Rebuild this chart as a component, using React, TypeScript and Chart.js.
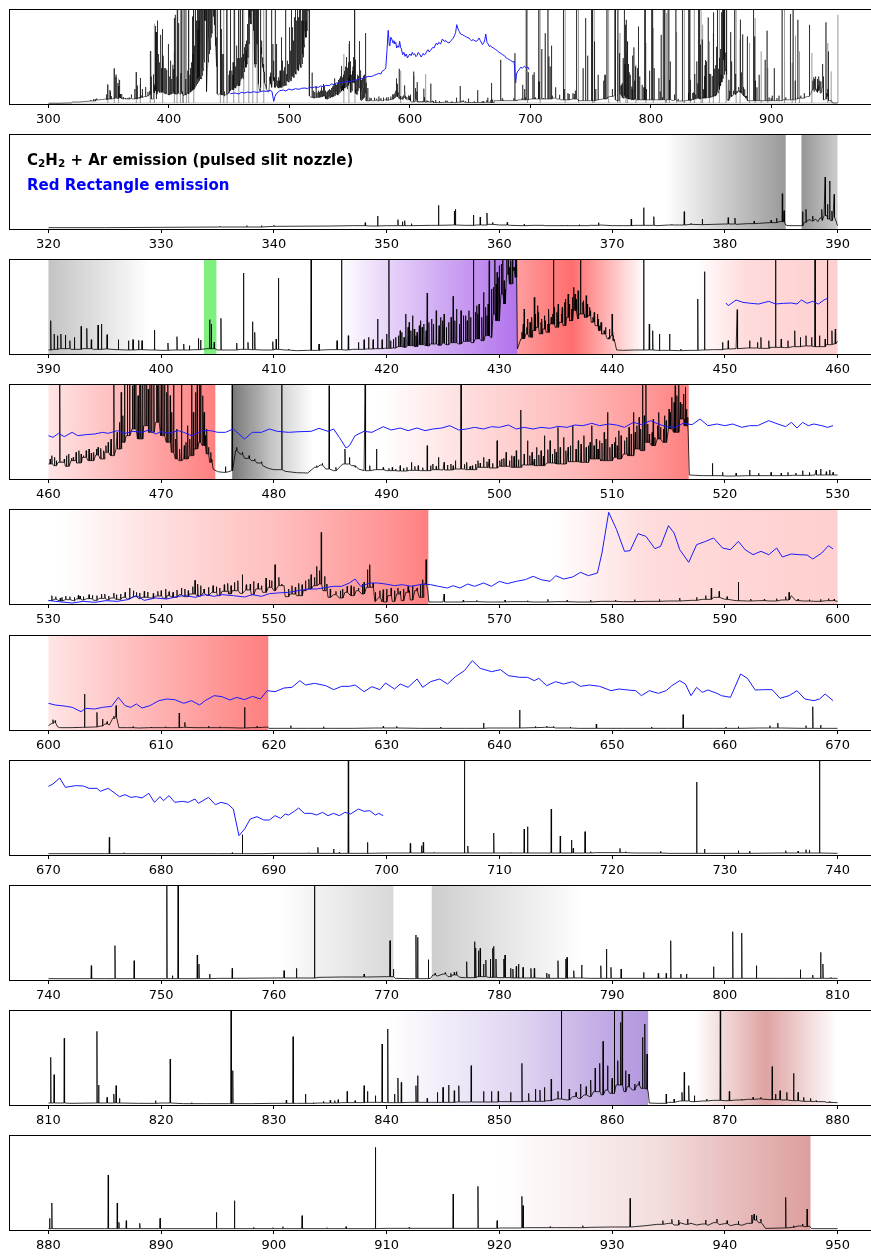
import { useEffect, useRef } from "react";
import { Chart, registerables } from "chart.js";

Chart.register(...registerables);

type Pt = [number, number];
type RGB = [number, number, number];
type Band = [number, number, string];

// ---------------- C2H2 + Ar emission (relative intensity, full scale = 285) ----------------

const cont320: Pt[] = [
  [320, 4], [325, 4], [330, 5], [335, 6], [340, 8], [345, 9], [347, 10], [348.5, 9], [350, 10], [352, 10],
  [354, 11], [356, 12], [357, 11], [358, 12], [359, 14], [360, 12], [361, 11], [362, 10], [363, 11], [364, 10],
  [366, 10], [368, 11], [369, 12], [370, 10], [371, 10], [372, 11], [373, 11], [374, 10], [375, 12], [376, 12],
  [377, 14], [378, 13], [379, 14], [380, 15], [381, 14], [382, 16], [383, 17], [384, 19], [384.8, 22], [385.4, 12],
  [385.6, 10], [386.7, 10], [387.05, 20], [387.35, 26], [387.55, 28], [387.7, 24], [388.05, 30], [388.25, 22],
  [388.45, 33], [388.65, 26], [388.8, 40], [389.15, 30], [389.4, 25], [389.6, 35], [389.8, 30], [390, 10],
];
const lines320: Pt[] = [
  [335.2, 8], [337.6, 10], [338.9, 10], [340.0, 11], [348.1, 19], [349.2, 39], [351.0, 28], [351.4, 22], [351.6, 25],
  [352.2, 16], [354.6, 71], [356.0, 54], [356.1, 59], [357.7, 42], [358.3, 36], [358.9, 48], [359.4, 20], [360.7, 20],
  [362.2, 14], [363.9, 12], [365.5, 12], [366.0, 12], [367.1, 13], [367.9, 11], [368.8, 19], [371.7, 30], [372.8, 64],
  [373.7, 37], [375.3, 14], [376.4, 52], [377.0, 17], [378.0, 30], [380.3, 34], [380.9, 33], [382.6, 24], [384.1, 26],
  [384.6, 32], [385.1, 106], [385.25, 55], [386.9, 52], [387.2, 59], [387.8, 39], [388.6, 59], [388.9, 156],
  [389.1, 74], [389.3, 144], [389.5, 54], [389.7, 104],
];

const cont390: Pt[] = [
  [390, 12], [390.5, 14], [391, 16], [392, 14], [393, 16], [394, 14], [395, 15], [396, 13], [397, 12], [398, 13],
  [399, 12], [400, 11], [401, 12], [402, 12], [403, 13], [403.6, 14], [404.05, 16], [405, 12], [406, 12], [407, 14],
  [408, 13], [409, 12], [410, 14], [411, 12], [412, 10], [413, 11], [414.2, 12], [415, 13], [416.3, 12], [417, 14],
  [418.2, 15], [419, 16], [419.8, 17], [420.5, 18], [421, 22], [421.5, 20], [421.85, 25], [422.5, 22], [422.85, 28],
  [423.45, 24], [423.85, 30], [424.6, 26], [424.95, 32], [425.3, 28], [425.7, 34], [426.4, 30], [426.8, 38],
  [427.5, 34], [427.85, 45], [428.4, 40], [428.75, 55], [429.2, 50], [429.45, 120], [429.7, 100], [430.15, 180],
  [430.4, 150], [430.65, 240], [430.9, 210], [431.2, 250], [431.4, 230], [431.6, 15], [431.9, 45], [432.35, 60],
  [432.65, 50], [432.95, 70], [433.25, 80], [433.55, 60], [433.85, 75], [434.15, 65], [434.45, 90], [434.95, 80],
  [435.3, 95], [435.65, 85], [435.95, 110], [436.25, 100], [436.5, 130], [436.95, 105], [437.05, 120], [437.55, 110],
  [437.85, 115], [438.15, 95], [438.5, 85], [438.8, 70], [439.1, 60], [439.5, 50], [439.6, 45], [439.9, 55],
  [440.1, 40], [440.4, 12], [441, 11], [442, 12], [443.1, 12], [444, 11], [445, 11], [446, 10], [447, 11], [448, 12],
  [449, 13], [450, 15], [451, 16], [452, 18], [453, 17], [454, 20], [455.3, 19], [456, 22], [457, 24], [457.9, 22],
  [459, 28], [459.6, 30], [460, 38],
];
const lines390: Pt[] = [
  [390.2, 100], [390.5, 60], [390.8, 55], [391.1, 60], [391.5, 57], [391.9, 40], [392.3, 50], [392.9, 83], [393.4, 77],
  [393.8, 43], [394.4, 87], [394.7, 90], [395.2, 58], [396.2, 43], [397.1, 40], [397.5, 43], [398.0, 41], [398.3, 40],
  [399.4, 72], [400.6, 33], [401.4, 52], [402.0, 30], [402.5, 25], [403.3, 47], [403.5, 42], [404.3, 103],
  [404.45, 90], [404.7, 35], [405.3, 107], [406.7, 33], [407.3, 243], [407.7, 35], [408.1, 97], [408.3, 65],
  [409.9, 37], [410.2, 45], [410.4, 228], [411.3, 15], [413.3, 330], [414.0, 30], [415.6, 40], [416.0, 330],
  [416.6, 55], [417.5, 35], [418.0, 43], [418.4, 50], [418.8, 43], [419.2, 105], [419.6, 43], [420.0, 60],
  [420.2, 330], [420.35, 40], [420.6, 45], [420.8, 50], [421.05, 55], [421.2, 70], [421.35, 65], [421.55, 50],
  [421.7, 120], [421.9, 80], [422.0, 95], [422.15, 70], [422.3, 115], [422.45, 75], [422.6, 55], [422.7, 65],
  [422.9, 85], [423.0, 100], [423.15, 80], [423.3, 90], [423.5, 70], [423.6, 183], [423.75, 95], [424.0, 105],
  [424.15, 90], [424.4, 130], [424.65, 85], [424.8, 110], [424.98, 100], [425.1, 120], [425.3, 80], [425.5, 95],
  [425.72, 110], [425.9, 173], [426.05, 100], [426.2, 135], [426.45, 90], [426.6, 130], [426.82, 115], [427.0, 115],
  [427.15, 100], [427.3, 130], [427.45, 110], [427.7, 283], [427.88, 125], [428.0, 145], [428.1, 120], [428.2, 150],
  [428.45, 110], [428.6, 185], [428.78, 140], [428.9, 115], [429.0, 150], [429.1, 280], [429.3, 195], [429.47, 200],
  [429.6, 285], [429.72, 210], [429.8, 245], [429.95, 230], [430.0, 265], [430.17, 270], [430.3, 330], [430.42, 220],
  [430.5, 195], [430.67, 300], [430.8, 330], [430.92, 260], [431.0, 280], [431.15, 300], [431.3, 260], [431.42, 290],
  [431.5, 330], [432.0, 65], [432.12, 90], [432.2, 135], [432.42, 80], [432.5, 105], [432.72, 95], [432.8, 75],
  [432.88, 110], [433.1, 170], [433.18, 120], [433.4, 145], [433.48, 125], [433.7, 95], [433.78, 105], [434.0, 115],
  [434.08, 100], [434.3, 90], [434.38, 135], [434.6, 110], [434.72, 120], [434.8, 330], [434.88, 140], [435.1, 125],
  [435.22, 150], [435.5, 120], [435.58, 140], [435.8, 155], [435.88, 165], [436.1, 180], [436.18, 150], [436.4, 135],
  [436.48, 170], [436.6, 200], [436.72, 180], [436.8, 165], [436.98, 190], [437.2, 330], [437.4, 155], [437.48, 160],
  [437.7, 175], [437.78, 150], [438.0, 140], [438.08, 130], [438.3, 110], [438.42, 125], [438.7, 120], [438.78, 105],
  [438.9, 85], [439.02, 95], [439.3, 70], [439.42, 80], [439.7, 50], [439.78, 75], [440.0, 120], [440.06, 70],
  [440.2, 44], [442.8, 330], [443.3, 90], [443.6, 70], [444.2, 60], [445.1, 60], [446.1, 15], [447.6, 165],
  [448.2, 247], [449.8, 35], [450.3, 40], [451.1, 133], [452.2, 40], [452.9, 35], [453.2, 50], [453.9, 40],
  [454.5, 330], [455.0, 45], [455.6, 40], [456.2, 70], [456.7, 50], [457.2, 55], [457.7, 50], [458.0, 330],
  [458.4, 55], [458.9, 45], [459.1, 330], [459.5, 70], [459.8, 75],
];

const cont460: Pt[] = [
  [460, 45], [460.5, 40], [460.85, 50], [461.5, 38], [462, 55], [462.5, 48], [463, 65], [463.5, 55], [464.2, 72],
  [464.6, 60], [465, 80], [465.5, 70], [466, 90], [466.5, 110], [466.9, 130], [467.4, 150], [467.9, 120],
  [468.45, 160], [468.9, 140], [469.5, 170], [469.95, 130], [470.45, 110], [470.9, 80], [471.25, 60], [471.6, 55],
  [472, 60], [472.5, 70], [472.9, 90], [473.35, 110], [473.65, 100], [474, 75], [474.3, 50], [474.6, 30], [475, 22],
  [475.5, 20], [476, 22], [476.25, 25], [476.6, 85], [477, 75], [477.4, 62], [478, 55], [478.5, 48], [479, 40],
  [479.5, 32], [480, 28], [481, 23], [482, 19], [483, 18], [483.6, 35], [484.1, 42], [484.6, 30], [485.3, 25],
  [486.1, 45], [486.9, 40], [487.5, 30], [488, 25], [489, 28], [490, 25], [491, 24], [492, 26], [493, 25], [494, 28],
  [495, 27], [496, 30], [497, 28], [498, 35], [499, 33], [500, 38], [501, 35], [502, 42], [503, 40], [504.2, 48],
  [505, 45], [506, 52], [507.2, 50], [508, 60], [509, 55], [510.15, 65], [510.5, 60], [511, 75], [511.4, 70],
  [512, 90], [512.5, 85], [512.9, 110], [513.5, 100], [514, 120], [514.5, 110], [515, 150], [515.45, 140],
  [516, 180], [516.4, 160], [516.75, 140], [516.85, 12], [518, 10], [520, 9], [522, 10], [524, 10], [526, 11],
  [528, 12], [530, 12],
];
const lines460: Pt[] = [
  [460.15, 60], [460.3, 70], [460.55, 65], [460.7, 55], [461.0, 330], [461.2, 52], [461.4, 60], [461.6, 70],
  [461.8, 75], [462.05, 62], [462.2, 65], [462.45, 80], [462.7, 85], [462.9, 75], [463.1, 70], [463.35, 85],
  [463.6, 90], [463.8, 78], [464.0, 80], [464.25, 90], [464.4, 95], [464.65, 92], [464.9, 85], [465.1, 100],
  [465.3, 110], [465.55, 120], [465.8, 330], [466.1, 140], [466.3, 170], [466.45, 260], [466.6, 190],
  [466.75, 300], [467.0, 330], [467.2, 330], [467.45, 280], [467.6, 300], [467.75, 330], [467.95, 250],
  [468.1, 330], [468.2, 310], [468.35, 290], [468.55, 330], [468.7, 330], [468.85, 270], [469.0, 330],
  [469.15, 330], [469.35, 300], [469.6, 330], [469.7, 280], [469.8, 320], [470.0, 300], [470.15, 330],
  [470.3, 330], [470.5, 260], [470.6, 330], [470.8, 250], [470.95, 200], [471.1, 330], [471.3, 120],
  [471.4, 150], [471.65, 90], [471.8, 330], [472.05, 100], [472.2, 110], [472.35, 160], [472.55, 120],
  [472.7, 330], [472.85, 200], [473.05, 260], [473.2, 330], [473.4, 300], [473.5, 330], [473.7, 250],
  [473.8, 200], [473.9, 130], [474.05, 150], [474.2, 95], [474.4, 80], [474.5, 60], [475.7, 37], [476.3, 330],
  [476.7, 95], [477.2, 80], [477.8, 70], [478.3, 60], [478.9, 52], [480.7, 330],
  [483.8, 40], [484.3, 47], [484.9, 280], [485.5, 35], [486.3, 90], [486.7, 65], [487.2, 35], [488.1, 330],
  [488.5, 40], [489.1, 90], [489.7, 35], [490.2, 32], [490.5, 35], [490.8, 30], [491.2, 40], [491.5, 33],
  [491.8, 35], [492.2, 50], [492.5, 38], [492.8, 40], [493.2, 34], [493.6, 100], [493.9, 40], [494.1, 45],
  [494.4, 38], [494.6, 65], [495.1, 50], [495.4, 42], [495.7, 45], [495.9, 40], [496.1, 55], [496.6, 330],
  [496.9, 44], [497.1, 50], [497.4, 38], [497.6, 40], [497.9, 45], [498.1, 55], [498.3, 48], [498.6, 65],
  [498.9, 52], [499.1, 60], [499.4, 47], [499.8, 115], [500.05, 55], [500.2, 60], [500.4, 62], [500.6, 80],
  [500.9, 55], [501.1, 70], [501.3, 68], [501.5, 85], [501.7, 58], [501.9, 207], [502.2, 75], [502.5, 115],
  [502.7, 70], [502.9, 80], [503.1, 60], [503.3, 95], [503.5, 72], [503.7, 85], [503.9, 68], [504.0, 130],
  [504.3, 88], [504.5, 115], [504.7, 75], [504.9, 90], [505.05, 80], [505.2, 155], [505.4, 95], [505.7, 125],
  [505.9, 85], [506.1, 95], [506.3, 100], [506.5, 160], [506.8, 90], [507.0, 115], [507.25, 105], [507.5, 130],
  [507.7, 95], [507.9, 100], [508.05, 110], [508.2, 160], [508.4, 100], [508.6, 120], [508.75, 90], [508.9, 115],
  [509.1, 108], [509.3, 140], [509.45, 120], [509.6, 200], [509.8, 95], [510.0, 105], [510.2, 110], [510.3, 125],
  [510.45, 100], [510.6, 145], [510.8, 130], [511.1, 115], [511.3, 125], [511.5, 155], [511.7, 135], [511.9, 200],
  [512.05, 140], [512.2, 160], [512.4, 185], [512.55, 150], [512.7, 330], [512.85, 190], [513.0, 285],
  [513.15, 165], [513.3, 135], [513.55, 140], [513.65, 180], [513.8, 125], [514.05, 160], [514.15, 200],
  [514.3, 155], [514.55, 150], [514.65, 190], [514.8, 175], [515.05, 210], [515.15, 200], [515.3, 245],
  [515.5, 230], [515.6, 280], [515.75, 250], [515.9, 330], [516.05, 230], [516.2, 225], [516.35, 255],
  [516.5, 275], [516.6, 210], [516.7, 185], [518.9, 47], [519.8, 20], [521.0, 18], [522.2, 27], [523.0, 17],
  [524.1, 20], [525.0, 18], [525.6, 20], [526.3, 18], [526.9, 25], [527.5, 20], [528.1, 27], [528.5, 30],
  [529.0, 22], [529.3, 27], [529.6, 20],
];

const cont530: Pt[] = [
  [530, 10], [530.5, 14], [531, 9], [531.5, 13], [532.2, 10], [532.5, 15], [533, 12], [533.4, 16], [534, 11],
  [534.5, 17], [535.2, 13], [535.5, 18], [536, 14], [536.6, 20], [537, 15], [537.5, 22], [538, 16], [538.3, 20],
  [539, 18], [539.5, 24], [540.2, 17], [540.5, 25], [541, 20], [541.6, 28], [542, 22], [542.5, 30], [543.2, 24],
  [543.7, 33], [544, 26], [544.5, 35], [545, 25], [545.4, 38], [546, 30], [546.3, 40], [547, 32], [547.5, 42],
  [548, 28], [548.4, 45], [549, 35], [549.5, 50], [550, 40], [550.4, 55], [551, 22], [551.4, 30], [552, 25],
  [552.6, 40], [553, 45], [553.5, 55], [554, 60], [554.35, 40], [554.8, 20], [555.3, 28], [555.8, 18], [556.3, 35],
  [556.8, 25], [557.3, 40], [557.8, 30], [558.2, 50], [558.95, 8], [559.3, 20], [559.6, 6], [560.1, 25], [560.5, 8],
  [560.9, 30], [561.3, 10], [561.7, 35], [562.1, 12], [562.5, 40], [562.9, 20], [563.3, 60], [563.65, 40],
  [563.75, 6], [565, 6], [567, 7], [569, 6], [571, 7], [573, 6], [575, 7], [577, 6], [579, 8], [581, 7], [583, 8],
  [585, 9], [587, 11], [588, 14], [589, 20], [590, 14], [591, 10], [592, 9], [593, 10], [594, 9], [595, 12],
  [595.9, 25], [596.3, 10], [597, 9], [598, 8], [599, 10], [600, 8],
];
const lines530: Pt[] = [
  [530.3, 25], [530.65, 22], [531.05, 18], [531.2, 20], [531.55, 24], [531.9, 22], [532.3, 20], [532.65, 26],
  [532.8, 24], [533.1, 22], [533.6, 28], [533.9, 26], [534.3, 25], [534.7, 30], [535.0, 30], [535.35, 24],
  [535.8, 33], [536.05, 28], [536.4, 30], [536.8, 35], [537.2, 48], [537.55, 40], [537.8, 35], [538.1, 33],
  [538.5, 38], [538.8, 36], [539.3, 32], [539.7, 38], [540.0, 40], [540.4, 45], [540.7, 37], [541.05, 35],
  [541.4, 42], [541.8, 48], [542.1, 45], [542.4, 40], [542.8, 52], [543.0, 71], [543.25, 60], [543.5, 55],
  [543.8, 45], [544.2, 50], [544.6, 55], [544.9, 52], [545.2, 48], [545.6, 58], [545.9, 62], [546.2, 55],
  [546.5, 65], [546.8, 70], [547.2, 88], [547.55, 58], [547.9, 60], [548.2, 68], [548.6, 62], [548.9, 55],
  [549.3, 78], [549.6, 72], [549.8, 70], [550.1, 118], [550.45, 80], [550.7, 60], [550.9, 55], [551.3, 45],
  [551.6, 55], [551.9, 50], [552.2, 62], [552.5, 58], [552.8, 70], [553.1, 75], [553.3, 88], [553.6, 80],
  [553.8, 113], [554.05, 100], [554.2, 215], [554.5, 83], [554.7, 60], [555.0, 45], [555.5, 38], [555.9, 40],
  [556.1, 45], [556.5, 53], [556.85, 55], [557.1, 52], [557.5, 48], [557.85, 60], [558.0, 65], [558.3, 103],
  [558.5, 118], [558.8, 63], [559.0, 35], [559.4, 40], [559.7, 43], [560.0, 45], [560.4, 48], [560.7, 40],
  [561.0, 48], [561.2, 38], [561.5, 45], [561.9, 53], [562.0, 40], [562.3, 55], [562.7, 48], [563.0, 60],
  [563.2, 73], [563.5, 133], [565.1, 30], [566.8, 12], [568.0, 11], [570.5, 12], [572.5, 10], [574.3, 14],
  [576.0, 11], [578.1, 12], [580.3, 12], [582.0, 13], [584.2, 14], [586.0, 18], [587.5, 20], [588.3, 25],
  [588.8, 48], [589.5, 38], [590.2, 22], [591.2, 66], [592.3, 15], [593.5, 14], [594.6, 16], [595.4, 22],
  [595.7, 35], [596.5, 15], [597.5, 13], [598.5, 14], [599.2, 16], [599.7, 15],
];

const cont600: Pt[] = [
  [600, 13], [600.3, 20], [600.5, 22], [600.8, 10], [601, 7], [602, 7], [603, 8], [604, 9], [604.6, 12], [605, 18],
  [605.4, 15], [605.7, 35], [605.9, 40], [606.25, 7], [607, 7], [608, 6], [609, 7], [610, 7], [611, 7], [612, 8],
  [613, 7], [614, 7], [615, 7], [616, 7], [617, 6], [618, 7], [619, 8], [619.45, 9], [619.55, 5], [621, 5], [623, 5],
  [625, 5], [627, 5], [629, 6], [631, 6], [633, 5], [635, 5], [637, 5], [639, 6], [641, 6], [643, 7], [644, 8],
  [645, 6], [647, 5], [649, 5], [651, 5], [653, 5], [655, 5], [657, 5], [659, 5], [661, 5], [663, 6], [665, 6],
  [667, 5], [669, 5], [670, 5],
];
const lines600: Pt[] = [
  [600.4, 31], [600.6, 28], [603.2, 108], [604.3, 53], [604.8, 33], [605.2, 25], [605.8, 41], [606.0, 73],
  [607.5, 10], [609.1, 9], [610.4, 10], [611.6, 51], [612.1, 23], [614.2, 12], [615.2, 10], [617.4, 68],
  [618.5, 11], [621.5, 13], [624.4, 10], [629.7, 11], [630.9, 11], [634.8, 9], [638.6, 21], [641.8, 60],
  [643.2, 11], [644.2, 12], [644.8, 11], [646.3, 9], [648.6, 18], [653.5, 9], [656.3, 46], [660.1, 9], [661.2, 10],
  [664.0, 13], [664.7, 21], [667.2, 13], [667.8, 70], [668.5, 15],
];

const cont670: Pt[] = [
  [670, 4], [675, 4], [680, 4], [685, 4], [690, 5], [695, 5], [700, 6], [705, 6], [710, 6], [715, 6], [718.5, 7],
  [720, 7], [722, 6], [725, 5], [730, 5], [735, 6], [738, 6], [740, 5],
];
const lines670: Pt[] = [
  [675.4, 53], [676.7, 7], [677.8, 5], [686.3, 7], [687.2, 61], [688.9, 5], [693.1, 7], [693.9, 23], [695.3, 18],
  [695.8, 8], [696.6, 330], [698.3, 38], [702.1, 35], [703.1, 28], [703.25, 38], [704.2, 8], [706.9, 330],
  [707.2, 27], [709.5, 66], [711.0, 7], [712.2, 78], [712.5, 85], [714.6, 138], [715.4, 57], [716.4, 45],
  [716.55, 20], [717.6, 70], [718.1, 10], [720.7, 20], [721.2, 10], [724.3, 11], [727.5, 219], [728.2, 18],
  [731.2, 13], [732.2, 12], [735.4, 13], [736.5, 12], [737.2, 16], [737.5, 15], [738.4, 330],
];

const cont740: Pt[] = [
  [740, 4], [745, 4], [750, 4], [755, 5], [760, 6], [763, 6], [764, 8], [766, 9], [768.3, 9], [770, 10], [770.75, 5],
  [772, 4], [773.9, 5], [774.1, 15], [774.5, 12], [775, 18], [775.45, 10], [775.85, 15], [776.5, 8], [777, 7],
  [778.05, 10], [779, 8], [780, 7], [781.1, 6], [782, 6], [784, 5], [786.2, 6], [788, 5], [790, 5], [795, 5],
  [800, 5], [805, 5], [810, 5],
];
const lines740: Pt[] = [
  [743.8, 43], [745.9, 103], [747.6, 58], [750.5, 330], [751.0, 13], [751.5, 330], [753.2, 75], [753.35, 48],
  [754.3, 18], [756.3, 35], [760.9, 28], [762.0, 35], [763.6, 330], [768.0, 18], [770.3, 118], [770.6, 33],
  [772.6, 135], [772.75, 128], [773.7, 61], [774.3, 20], [775.2, 22], [775.7, 20], [776.0, 23], [776.2, 25],
  [777.1, 55], [777.8, 115], [777.9, 96], [778.15, 88], [778.3, 95], [778.6, 48], [778.8, 60], [779.2, 63],
  [779.4, 95], [779.5, 101], [779.7, 63], [780.4, 63], [780.5, 75], [781.0, 35], [781.2, 33], [781.5, 41],
  [781.7, 48], [782.1, 38], [782.8, 35], [783.1, 35], [784.2, 21], [784.4, 18], [785.2, 58], [785.9, 63],
  [786.0, 68], [786.6, 28], [787.3, 45], [789.0, 43], [789.5, 93], [789.9, 38], [790.8, 33], [792.8, 23],
  [794.1, 20], [794.8, 20], [795.2, 118], [796.1, 18], [796.6, 18], [799.0, 40], [800.7, 145], [801.5, 141],
  [802.8, 43], [806.7, 31], [807.8, 15], [808.5, 83], [808.7, 48], [809.4, 8],
];

const cont810: Pt[] = [
  [810, 6], [812, 5], [814, 6], [816.1, 6], [818, 5], [820, 6], [822, 4], [824, 4], [826, 4], [828, 4], [830, 5],
  [832, 5], [834, 6], [836, 7], [838.1, 8], [840, 7], [842, 8], [844, 8], [846.2, 9], [848, 9], [850, 10], [852.2, 11],
  [854.2, 13], [855, 18], [856, 15], [856.5, 25], [857, 20], [857.5, 30], [858, 25], [858.35, 40], [859.05, 30],
  [859.4, 45], [859.8, 35], [860.35, 60], [861.05, 40], [861.35, 55], [861.8, 45], [862.2, 60], [862.55, 50],
  [863.0, 48], [863.2, 40], [863.3, 6], [864, 5], [865, 8], [866, 12], [867, 10], [868, 12], [869, 14], [870, 13],
  [871, 15], [872, 17], [873, 18], [874, 16], [875, 15], [876, 13], [877, 11], [878, 10], [879, 8], [880, 7],
];
const lines810: Pt[] = [
  [810.2, 143], [810.5, 91], [811.4, 200], [814.3, 221], [814.45, 60], [815.2, 23], [815.8, 33], [816.0, 58],
  [816.3, 20], [819.5, 13], [820.8, 138], [822.7, 7], [826.2, 330], [826.35, 103], [831.1, 15], [831.7, 205],
  [832.8, 33], [833.5, 7], [834.4, 11], [835.0, 15], [835.4, 13], [835.7, 16], [836.5, 41], [837.2, 13],
  [838.0, 58], [838.3, 41], [839.0, 28], [839.6, 183], [840.1, 228], [840.7, 33], [841.0, 81], [841.3, 68],
  [842.6, 58], [842.75, 88], [843.6, 20], [844.5, 38], [845.0, 53], [845.5, 60], [846.0, 43], [846.4, 58],
  [847.5, 118], [848.6, 41], [849.3, 41], [849.9, 41], [851.0, 38], [852.0, 125], [852.6, 35], [853.2, 48],
  [853.6, 45], [854.0, 53], [854.6, 78], [855.2, 41], [855.5, 330], [856.2, 48], [856.8, 38], [857.2, 63],
  [857.7, 55], [858.1, 75], [858.5, 111], [858.9, 125], [859.2, 191], [859.6, 118], [860.0, 80], [860.2, 330],
  [860.5, 133], [860.75, 248], [860.9, 330], [861.2, 103], [861.5, 93], [862.0, 63], [862.4, 70], [862.7, 203],
  [862.9, 243], [863.1, 153], [864.8, 33], [865.5, 18], [866.2, 38], [866.4, 98], [866.8, 58], [867.3, 28],
  [868.4, 18], [869.6, 330], [870.4, 41], [871.5, 18], [872.5, 23], [873.2, 23], [874.2, 115], [874.5, 33],
  [874.9, 43], [875.5, 38], [876.1, 95], [876.5, 38], [877.0, 23], [877.6, 20], [878.1, 13], [878.8, 11],
  [879.3, 11],
];

const cont880: Pt[] = [
  [880, 4], [882, 4], [885, 4], [890, 4], [895, 4], [900, 4], [905, 4], [910, 5], [915, 5], [920, 6], [922.3, 7],
  [925, 7], [928, 8], [930, 9], [932, 10], [933, 13], [934, 17], [935, 20], [935.5, 15], [936, 22], [936.5, 17],
  [937, 20], [937.5, 15], [938, 18], [938.5, 14], [939, 22], [939.5, 16], [940, 19], [940.5, 13], [941, 17],
  [941.5, 14], [942, 20], [942.5, 30], [943, 22], [943.4, 15], [943.6, 5], [944, 5], [945, 6], [946, 8],
  [946.5, 12], [947, 10], [947.5, 12], [947.7, 4], [948, 4], [950, 4],
];
const lines880: Pt[] = [
  [880.1, 35], [880.3, 81], [885.3, 165], [886.1, 81], [886.25, 23], [886.9, 28], [888.1, 20], [889.9, 35],
  [894.9, 53], [896.5, 88], [898.2, 8], [899.9, 7], [900.8, 10], [902.5, 43], [904.7, 7], [906.4, 10], [909.0, 248],
  [912.0, 8], [915.9, 108], [918.1, 131], [919.8, 28], [922.0, 101], [922.1, 73], [924.5, 10], [927.4, 13],
  [931.6, 95], [934.5, 28], [935.3, 32], [935.9, 30], [936.7, 33], [938.3, 30], [939.3, 33], [940.2, 28],
  [941.2, 27], [942.4, 45], [942.6, 48], [942.8, 43], [943.2, 33], [945.4, 98], [946.1, 13], [946.9, 18],
  [947.3, 63],
];

// ---------------- Red Rectangle emission ----------------

const blue390: Pt[] = [
  [450.1, 153], [450.3, 145], [451.0, 162], [451.6, 155], [452.3, 152], [453.0, 150], [453.9, 158], [454.5, 150],
  [455.2, 152], [455.9, 153], [456.4, 150], [456.8, 162], [457.3, 152], [457.8, 158], [458.3, 150], [458.8, 162],
  [459.1, 167],
];
const blue460: Pt[] = [
  [460, 130], [460.4, 125], [460.9, 137], [461.4, 127], [462.1, 140], [462.6, 130], [463.3, 133], [464.1, 135],
  [464.8, 140], [465.3, 137], [466.1, 145], [466.8, 137], [467.5, 143], [468.3, 140], [468.9, 147], [469.5, 135],
  [470.0, 142], [470.7, 137], [471.5, 145], [472.0, 140], [472.7, 130], [473.7, 145], [474.4, 145], [475.0, 140],
  [475.7, 140], [476.4, 150], [477.4, 120], [478.1, 140], [478.9, 140], [479.6, 150], [480.3, 143], [481.3, 140],
  [482.3, 142], [483.3, 143], [484.0, 152], [484.8, 143], [485.3, 150], [485.8, 125], [486.4, 93], [486.7, 100],
  [487.2, 130], [488.0, 143], [488.7, 140], [489.7, 157], [490.4, 147], [491.2, 153], [491.9, 145], [492.7, 153],
  [493.4, 145], [494.1, 150], [494.9, 153], [495.6, 160], [496.4, 147], [497.1, 150], [497.8, 155], [498.6, 150],
  [499.3, 157], [500.0, 155], [500.8, 162], [501.5, 150], [502.2, 155], [503.0, 150], [503.7, 155], [504.5, 152],
  [505.2, 158], [506.0, 155], [506.7, 162], [507.4, 160], [508.2, 167], [508.9, 160], [509.7, 165], [510.4, 162],
  [511.1, 155], [511.9, 170], [512.6, 163], [513.4, 175], [514.1, 165], [514.8, 157], [515.6, 155], [516.3, 167],
  [517.1, 163], [517.8, 180], [518.5, 160], [519.3, 165], [520.0, 160], [520.7, 165], [521.5, 155], [522.2, 160],
  [522.9, 160], [523.9, 175], [524.7, 165], [525.4, 157], [525.9, 170], [526.4, 153], [526.9, 170], [527.4, 160],
  [527.9, 165], [528.6, 160], [529.1, 155], [529.6, 160],
];
const blue530: Pt[] = [
  [530, 11], [530.6, 8], [532.1, 3], [533.1, 8], [534.1, 5], [535.1, 10], [536.1, 8], [537.0, 13], [537.8, 25],
  [538.5, 11], [539.5, 18], [540.5, 15], [541.5, 23], [542.2, 25], [543.0, 20], [543.9, 28], [544.7, 23],
  [545.4, 28], [546.4, 25], [547.4, 21], [548.1, 28], [548.9, 23], [549.6, 31], [550.3, 33], [551.3, 35],
  [552.3, 41], [553.1, 45], [553.8, 45], [554.5, 49], [555.3, 53], [556.0, 53], [556.7, 63], [557.2, 75],
  [557.7, 53], [558.5, 63], [559.2, 63], [559.9, 60], [560.7, 55], [561.4, 58], [562.2, 53], [563.2, 60],
  [563.9, 58], [564.6, 53], [565.4, 48], [565.9, 55], [566.5, 48], [567.2, 60], [567.8, 53], [568.6, 63],
  [569.3, 53], [570.0, 68], [570.7, 61], [571.5, 68], [572.3, 73], [573.0, 83], [573.7, 73], [574.5, 68],
  [575.0, 85], [575.7, 75], [576.5, 81], [577.2, 95], [577.9, 85], [578.7, 93], [579.1, 153], [579.7, 275],
  [580.4, 223], [581.1, 158], [581.6, 160], [582.3, 211], [583.0, 203], [583.8, 166], [584.3, 173], [585.0, 235],
  [585.5, 213], [586.0, 163], [586.8, 125], [587.5, 178], [588.3, 188], [589.0, 198], [589.8, 168], [590.5, 163],
  [591.2, 188], [591.8, 163], [592.5, 148], [593.2, 158], [593.9, 148], [594.6, 168], [595.1, 141], [595.9, 150],
  [596.6, 148], [597.3, 147], [597.8, 135], [598.6, 153], [599.2, 175], [599.6, 165],
];
const blue600: Pt[] = [
  [600, 80], [600.6, 75], [601.6, 71], [602.1, 68], [602.9, 55], [603.3, 65], [604.1, 63], [604.8, 68], [605.6, 71],
  [606.2, 98], [606.8, 73], [607.3, 68], [607.8, 78], [608.3, 66], [609.0, 73], [609.8, 88], [610.5, 93], [611.2, 91],
  [612.0, 80], [612.7, 88], [613.4, 75], [613.9, 88], [614.7, 103], [615.4, 100], [616.1, 90], [616.7, 98],
  [617.4, 91], [618.1, 101], [618.8, 93], [619.4, 118], [620.1, 115], [620.9, 126], [621.6, 128], [622.3, 148],
  [622.8, 135], [623.6, 140], [624.6, 133], [625.3, 121], [626.0, 131], [626.7, 131], [627.2, 135], [628.0, 115],
  [628.7, 130], [629.4, 121], [629.9, 141], [630.7, 123], [631.2, 138], [631.9, 128], [632.7, 153], [633.2, 128],
  [633.9, 145], [634.7, 153], [635.4, 138], [636.1, 160], [636.9, 178], [637.6, 208], [638.3, 185], [639.3, 175],
  [640.1, 181], [640.8, 163], [641.8, 158], [642.5, 158], [643.1, 148], [643.5, 155], [644.2, 133], [645.0, 145],
  [645.7, 138], [646.5, 145], [647.2, 131], [648.0, 135], [648.9, 131], [649.9, 118], [650.6, 123], [651.4, 120],
  [652.1, 118], [652.6, 103], [653.3, 118], [654.1, 110], [654.8, 118], [655.3, 133], [656.0, 148], [656.5, 138],
  [657.0, 103], [657.5, 128], [658.0, 113], [658.5, 120], [659.3, 110], [659.7, 103], [660.5, 98], [661.4, 168],
  [662.0, 155], [662.7, 120], [663.5, 121], [664.2, 121], [664.9, 95], [665.7, 103], [666.4, 118], [667.1, 93],
  [667.9, 88], [668.4, 93], [668.9, 108], [669.6, 88],
];
const blue670: Pt[] = [
  [670, 206], [670.4, 213], [671.0, 231], [671.5, 203], [672.4, 208], [673.1, 207], [673.6, 200], [674.3, 200],
  [674.6, 191], [675.3, 200], [676.3, 175], [676.8, 181], [677.3, 173], [677.8, 175], [678.3, 171], [678.9, 185],
  [679.4, 158], [679.9, 175], [680.2, 163], [680.7, 178], [681.2, 158], [681.9, 161], [682.4, 158], [683.0, 168],
  [683.3, 155], [684.2, 173], [684.8, 151], [685.3, 158], [685.9, 153], [686.4, 138], [686.9, 58], [687.4, 78],
  [687.9, 108], [688.5, 115], [689.1, 105], [689.6, 105], [690.1, 118], [690.6, 110], [691.0, 123], [691.3, 120],
  [691.8, 131], [692.2, 141], [692.7, 125], [693.3, 125], [693.8, 120], [694.3, 128], [694.8, 118], [695.3, 125],
  [695.8, 118], [696.3, 128], [696.8, 123], [697.5, 138], [698.0, 131], [698.5, 133], [699.0, 120], [699.3, 125],
  [699.7, 118],
];
const overviewBlue: Pt[] = [
  [451, 31], [455, 33], [458, 30], [460, 35], [463, 33], [465, 36], [468, 34], [470, 37], [473, 35], [475, 36],
  [478, 39], [481.5, 38], [484, 41], [485.5, 38], [487, 8], [488, 22], [489, 30], [492, 40], [495, 42], [497, 39],
  [499.6, 45], [502, 42], [505, 46], [508, 44], [510, 47], [513, 48], [515, 46], [517, 51], [519, 48], [521, 51],
  [524, 50], [526, 54], [528, 52], [530, 56], [533, 55], [535, 60], [537, 58], [539, 63], [541, 61], [543, 66],
  [545, 64], [547, 68], [550, 67], [552.5, 70], [555, 72], [557, 75], [559, 74], [561, 78], [563, 80], [566, 83],
  [568, 82], [570, 86], [572, 88], [574, 92], [576, 90], [577, 98], [579, 103], [580, 108], [581, 160], [582, 221],
  [583, 175], [583.5, 180], [584.2, 200], [585, 195], [586, 183], [586.8, 190], [587.5, 180], [588.3, 185],
  [589, 168], [590, 175], [590.8, 170], [591.5, 188], [592.3, 170], [593, 165], [594, 148], [595, 155], [596, 143],
  [597, 150], [598, 138], [599, 145], [600, 150], [601, 145], [602, 155], [603, 148], [604, 151], [605, 142],
  [606, 146], [607, 155], [608, 150], [609.4, 141], [610.5, 148], [611, 152], [612, 147], [613, 150], [614, 158],
  [615, 163], [616, 156], [617, 160], [618, 165], [619, 170], [620, 168], [622, 183], [623, 178], [624, 185],
  [625.5, 180], [627, 195], [628.5, 188], [630, 190], [631, 185], [632.5, 183], [634, 190], [635, 193], [636, 198],
  [637, 205], [638, 215], [638.9, 238], [640, 225], [641, 218], [642, 210], [643.6, 208], [645, 205], [646, 203],
  [647.5, 200], [649.1, 198], [650, 194], [651, 190], [652.5, 193], [654.7, 188], [656, 190], [657.4, 198],
  [658.5, 190], [660.3, 178], [661.5, 185], [662.2, 193], [663, 210], [664, 185], [665, 180], [665.8, 173],
  [667, 175], [668, 170], [669.5, 168], [671.3, 163], [672.5, 160], [674, 155], [675.5, 152], [676.9, 148],
  [678.5, 145], [680, 138], [681.2, 136], [682.4, 133], [683.5, 131], [684, 130], [685.5, 126], [686.5, 128],
  [687.8, 63], [688.5, 90], [689.5, 98], [690.7, 103], [692, 110], [693.5, 108], [694.9, 113], [696, 110],
  [697, 108], [698, 111], [699, 103],
];

// Short stretches of the overview spectrum outside the detailed windows
const overviewLead: Pt[] = [[300, 2], [305, 2], [310, 2], [315, 3], [319, 3]];
const overviewTail: Pt[] = [[951, 3], [953, 3], [955, 3]];
// Relative scaling of each detailed window in the overview trace
const overviewGain = [1.5, 2.5, 2.0, 1.6, 0.9, 2.5, 2.5, 2.2, 2.5];
// Fainter overlaid lines of the other discharge runs in the overview
const overviewFaintBase: Pt[] = [[300, 3], [955, 3]];
const overviewFaint: Pt[] = [
  [349.3, 58], [354.6, 108], [358.2, 76], [372.9, 95], [376.2, 60], [384.5, 158], [387.9, 241], [394.8, 133],
  [404.5, 155], [406.7, 330], [409.5, 330], [411.7, 330], [414.5, 330], [416.4, 330], [420.6, 330], [442.7, 330],
  [445.5, 330], [448.3, 330], [453.8, 330], [458.0, 330], [462.1, 330], [466.3, 330], [469.6, 330], [473.2, 330],
  [478.7, 330], [545.2, 150], [549.4, 180], [554.4, 330], [592.4, 100], [603.4, 85], [613.1, 90], [697.6, 330],
  [708.1, 330], [728.9, 330], [740.0, 330], [751.6, 330], [753.0, 330], [765.0, 330], [772.4, 193], [774.4, 213],
  [779.3, 158], [780.7, 188], [787.7, 118], [795.9, 183], [802.0, 228], [812.0, 330], [813.1, 273], [815.4, 330],
  [821.4, 216], [827.8, 330], [832.8, 330], [836.1, 330], [841.7, 330], [843.0, 238], [848.6, 188], [851.9, 213],
  [856.9, 330], [862.5, 330], [870.8, 330], [874.1, 193], [881.9, 183], [886.6, 258], [891.6, 158], [897.1, 108],
  [911.0, 330], [917.3, 123], [920.1, 205], [923.4, 158], [933.7, 153], [946.9, 183], [949.7, 98], [955.3, 268],
];

// ---------------- shaded bands [from, to, style] ----------------

const bands320: Band[] = [[374.7, 385.4, "grayRise"], [386.8, 390.0, "grayFall"]];
const bands390: Band[] = [
  [390, 399, "grayFade"], [403.8, 404.9, "green"], [415.8, 431.6, "violetRise"], [431.6, 442.9, "redHump"],
  [447.5, 460, "pinkRise"],
];
const bands460: Band[] = [[460, 474.8, "redRiseShort"], [476.3, 483.5, "darkFade"], [489.5, 516.8, "redRise"]];
const bands530: Band[] = [[531, 563.7, "redRise"], [574.5, 600, "pinkRise"]];
const bands600: Band[] = [[600, 619.5, "redRiseShort"]];
const bands670: Band[] = [];
const bands740: Band[] = [[760.3, 770.6, "lightGrayRise"], [774.0, 787.5, "lightGrayFade"]];
const bands810: Band[] = [[840, 863.2, "lavenderRise"], [867.3, 880, "brickHump"]];
const bands880: Band[] = [[920, 947.6, "brickRise"]];

const bandStyles: Record<string, { rgb: RGB; stops: [number, number][] }> = {
  grayRise: { rgb: [128, 128, 128], stops: [[0, 0], [1, 0.8]] },
  grayFall: { rgb: [128, 128, 128], stops: [[0, 0.83], [1, 0.4]] },
  grayFade: { rgb: [128, 128, 128], stops: [[0, 0.47], [1, 0]] },
  green: { rgb: [0, 225, 0], stops: [[0, 0.5], [1, 0.5]] },
  violetRise: { rgb: [138, 43, 226], stops: [[0, 0], [0.27, 0.2], [0.6, 0.42], [1, 0.66]] },
  redHump: { rgb: [255, 0, 0], stops: [[0, 0.38], [0.25, 0.5], [0.43, 0.57], [0.65, 0.35], [1, 0]] },
  pinkRise: { rgb: [255, 0, 0], stops: [[0, 0], [0.35, 0.14], [1, 0.19]] },
  redRiseShort: { rgb: [255, 0, 0], stops: [[0, 0.1], [1, 0.5]] },
  darkFade: { rgb: [0, 0, 0], stops: [[0, 0.53], [0.5, 0.22], [1, 0]] },
  redRise: { rgb: [255, 0, 0], stops: [[0, 0], [0.3, 0.14], [0.6, 0.26], [0.88, 0.41], [1, 0.5]] },
  lightGrayRise: { rgb: [128, 128, 128], stops: [[0, 0], [1, 0.31]] },
  lightGrayFade: { rgb: [128, 128, 128], stops: [[0, 0.39], [1, 0]] },
  lavenderRise: { rgb: [101, 45, 189], stops: [[0, 0], [0.5, 0.2], [1, 0.5]] },
  brickHump: { rgb: [178, 34, 34], stops: [[0, 0], [0.5, 0.42], [1, 0]] },
  brickRise: { rgb: [178, 34, 34], stops: [[0, 0], [0.5, 0.15], [1, 0.44]] },
};

// ---------------- axes ----------------

const xLimits: Pt[] = [
  [267.25, 987.75], [316.5, 393.5], [386.5, 463.5], [456.5, 533.5], [526.5, 603.5], [596.5, 673.5],
  [666.5, 743.5], [736.5, 813.5], [806.5, 883.5], [876.5, 953.5],
];
const tickSteps = [100, 10, 10, 10, 10, 10, 10, 10, 10, 10];
const Y_FULL = 285;

// ---------------- layout ----------------

const PLOT_TOPS = [9, 134, 259, 384, 509, 635, 760, 885, 1010, 1135];
const CANVAS_W = 890;
const PAD_TOP = 5;
const PLOT_H = 95;
const AXIS_H = 25;
const PLOT_LEFT = 9;
const PLOT_RIGHT = 877;
const LINE_HALF = 0.03;

type XY = { x: number; y: number };

function buildSpectrum(cont: Pt[], lines: Pt[], gain = 1): XY[] {
  const pts: XY[] = cont.map(([x, y]) => ({ x, y: y * gain }));
  for (const [x, h] of lines) {
    let base = cont[0][1];
    for (const [cx, cy] of cont) {
      if (cx > x) break;
      base = cy;
    }
    pts.push({ x: x - LINE_HALF, y: base * gain }, { x, y: h * gain }, { x: x + LINE_HALF, y: base * gain });
  }
  pts.sort((a, b) => a.x - b.x);
  return pts;
}

const toXY = (p: Pt[]): XY[] => p.map(([x, y]) => ({ x, y }));

const detailSets: { cont: Pt[]; lines: Pt[]; blue: Pt[]; bands: Band[] }[] = [
  { cont: cont320, lines: lines320, blue: [], bands: bands320 },
  { cont: cont390, lines: lines390, blue: blue390, bands: bands390 },
  { cont: cont460, lines: lines460, blue: blue460, bands: bands460 },
  { cont: cont530, lines: lines530, blue: blue530, bands: bands530 },
  { cont: cont600, lines: lines600, blue: blue600, bands: bands600 },
  { cont: cont670, lines: lines670, blue: blue670, bands: bands670 },
  { cont: cont740, lines: lines740, blue: [], bands: bands740 },
  { cont: cont810, lines: lines810, blue: [], bands: bands810 },
  { cont: cont880, lines: lines880, blue: [], bands: bands880 },
];

function overviewSpectrum(): XY[] {
  const pts: XY[] = toXY(overviewLead);
  detailSets.forEach((s, i) => {
    for (const p of buildSpectrum(s.cont, s.lines, overviewGain[i])) pts.push(p);
  });
  for (const p of toXY(overviewTail)) pts.push(p);
  return pts;
}

const bandPlugin = {
  id: "bands",
  beforeDatasetsDraw(chart: any, _args: any, opts: any) {
    const bands: Band[] = opts.bands || [];
    const { ctx, chartArea } = chart;
    const xs = chart.scales.x;
    ctx.save();
    ctx.beginPath();
    ctx.rect(chartArea.left, chartArea.top, chartArea.right - chartArea.left, chartArea.bottom - chartArea.top);
    ctx.clip();
    for (const [a, b, key] of bands) {
      const st = bandStyles[key];
      const x0 = xs.getPixelForValue(a);
      const x1 = xs.getPixelForValue(b);
      const g = ctx.createLinearGradient(x0, 0, x1, 0);
      for (const [pos, al] of st.stops) g.addColorStop(pos, `rgba(${st.rgb[0]},${st.rgb[1]},${st.rgb[2]},${al})`);
      ctx.fillStyle = g;
      ctx.fillRect(x0, chartArea.top, x1 - x0, chartArea.bottom - chartArea.top);
    }
    ctx.restore();
  },
};

const framePlugin = {
  id: "frame",
  afterDatasetsDraw(chart: any) {
    const { ctx, chartArea } = chart;
    ctx.save();
    ctx.strokeStyle = "#000";
    ctx.lineWidth = 1;
    ctx.strokeRect(
      chartArea.left + 0.5,
      chartArea.top + 0.5,
      chartArea.right - chartArea.left,
      chartArea.bottom - chartArea.top
    );
    ctx.restore();
  },
};

function Panel({ index }: { index: number }) {
  const ref = useRef<HTMLCanvasElement | null>(null);
  useEffect(() => {
    if (!ref.current) return;
    const overview = index === 0;
    const set = overview ? null : detailSets[index - 1];
    const black = overview ? overviewSpectrum() : buildSpectrum(set!.cont, set!.lines);
    const blue = overview ? toXY(overviewBlue) : toXY(set!.blue);
    const faint = overview ? buildSpectrum(overviewFaintBase, overviewFaint) : [];
    const [lo, hi] = xLimits[index];
    const chart = new Chart(ref.current, {
      type: "line",
      data: {
        datasets: [
          {
            data: blue,
            borderColor: "#1a1aff",
            borderWidth: 1,
            pointRadius: 0,
            tension: 0,
            clip: 0,
          } as any,
          {
            data: black,
            borderColor: overview ? "rgba(0,0,0,0.72)" : "#000",
            borderWidth: 0.8,
            pointRadius: 0,
            tension: 0,
            clip: 0,
          } as any,
          {
            data: faint,
            borderColor: "rgba(0,0,0,0.28)",
            borderWidth: 0.8,
            pointRadius: 0,
            tension: 0,
            clip: 0,
          } as any,
        ],
      },
      options: {
        animation: false,
        responsive: false,
        maintainAspectRatio: false,
        events: [],
        layout: { padding: { top: PAD_TOP, left: PLOT_LEFT, right: CANVAS_W - PLOT_RIGHT, bottom: 0 } },
        plugins: {
          legend: { display: false },
          tooltip: { enabled: false },
          bands: { bands: overview ? [] : set!.bands },
        } as any,
        scales: {
          x: {
            type: "linear",
            min: lo,
            max: hi,
            afterFit: (s: any) => {
              s.height = AXIS_H;
            },
            border: { display: false },
            grid: {
              drawOnChartArea: false,
              drawTicks: true,
              tickLength: 4,
              tickColor: "#000",
              tickWidth: 1,
            },
            ticks: {
              stepSize: tickSteps[index],
              includeBounds: false,
              autoSkip: false,
              maxRotation: 0,
              padding: 4,
              color: "#000",
              font: { family: "'DejaVu Sans', sans-serif", size: 13 },
              callback: (v: any) => String(v),
            },
          },
          y: { display: false, min: 0, max: Y_FULL },
        },
      } as any,
      plugins: [bandPlugin, framePlugin],
    });
    return () => chart.destroy();
  }, [index]);
  return (
    <canvas
      ref={ref}
      width={CANVAS_W}
      height={PAD_TOP + PLOT_H + AXIS_H}
      style={{ position: "absolute", left: 0, top: PLOT_TOPS[index] - PAD_TOP }}
    />
  );
}

const subStyle: React.CSSProperties = { fontSize: "0.7em", position: "relative", top: "0.22em" };

export default function App() {
  return (
    <div
      style={{
        position: "fixed",
        left: 0,
        top: 0,
        width: 871,
        height: 1257,
        overflow: "hidden",
        background: "#fff",
      }}
    >
      {PLOT_TOPS.map((_, i) => (
        <Panel key={i} index={i} />
      ))}
      <div
        style={{
          position: "absolute",
          left: 27,
          top: 149,
          fontFamily: "'DejaVu Sans', sans-serif",
          fontWeight: 700,
          fontSize: 15,
          lineHeight: "23.5px",
          whiteSpace: "nowrap",
        }}
      >
        <div style={{ color: "#000" }}>
          C<span style={subStyle}>2</span>H<span style={subStyle}>2</span> + Ar emission (pulsed slit nozzle)
        </div>
        <div style={{ color: "#0000ff" }}>Red Rectangle emission</div>
      </div>
    </div>
  );
}
